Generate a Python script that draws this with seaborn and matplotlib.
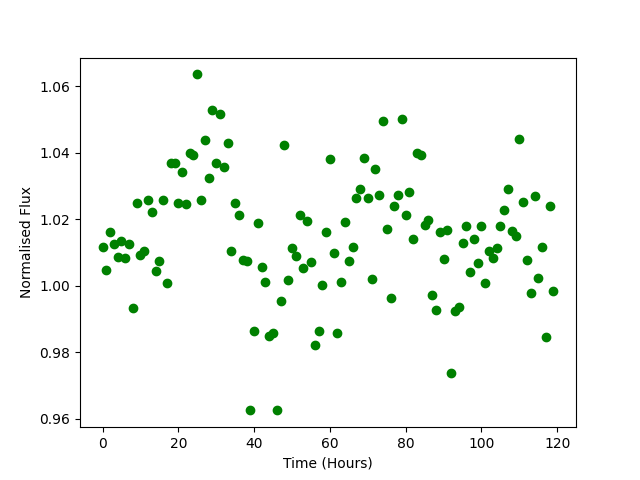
import matplotlib
matplotlib.use("Agg")
import matplotlib.pyplot as plt
import seaborn as sns
import numpy as np

time_hours = list(range(120))
flux = [
    1.0115, 1.0047, 1.0160, 1.0125, 1.0087, 1.0135, 1.0083, 1.0125, 0.9932, 1.0248,
    1.0093, 1.0103, 1.0258, 1.0222, 1.0043, 1.0073, 1.0257, 1.0007, 1.0368, 1.0368,
    1.0248, 1.0342, 1.0245, 1.0400, 1.0393, 1.0635, 1.0257, 1.0437, 1.0325, 1.0528,
    1.0368, 1.0515, 1.0358, 1.0430, 1.0105, 1.0248, 1.0213, 1.0078, 1.0075, 0.9625,
    0.9865, 1.0187, 1.0055, 1.0010, 0.9850, 0.9857, 0.9625, 0.9953, 1.0422, 1.0018,
    1.0112, 1.0090, 1.0213, 1.0053, 1.0193, 1.0070, 0.9823, 0.9865, 1.0003, 1.0160,
    1.0382, 1.0097, 0.9857, 1.0010, 1.0190, 1.0073, 1.0115, 1.0262, 1.0292, 1.0385,
    1.0262, 1.0020, 1.0350, 1.0273, 1.0495, 1.0170, 0.9962, 1.0238, 1.0272, 1.0500,
    1.0213, 1.0282, 1.0140, 1.0400, 1.0392, 1.0182, 1.0198, 0.9972, 0.9927, 1.0160,
    1.0080, 1.0167, 0.9737, 0.9925, 0.9935, 1.0128, 1.0180, 1.0042, 1.0140, 1.0068,
    1.0180, 1.0007, 1.0105, 1.0083, 1.0113, 1.0180, 1.0227, 1.0290, 1.0163, 1.0150,
    1.0440, 1.0252, 1.0077, 0.9978, 1.0268, 1.0022, 1.0115, 0.9845, 1.0240, 0.9983,
]

fig, ax = plt.subplots(figsize=(6.4, 4.8), dpi=100)
sns.scatterplot(x=time_hours, y=flux, color="green", s=36,
                edgecolor="green", linewidth=1, ax=ax)
ax.set_xlabel("Time (Hours)")
ax.set_ylabel("Normalised Flux")
fig.savefig("out.png", dpi=100)
